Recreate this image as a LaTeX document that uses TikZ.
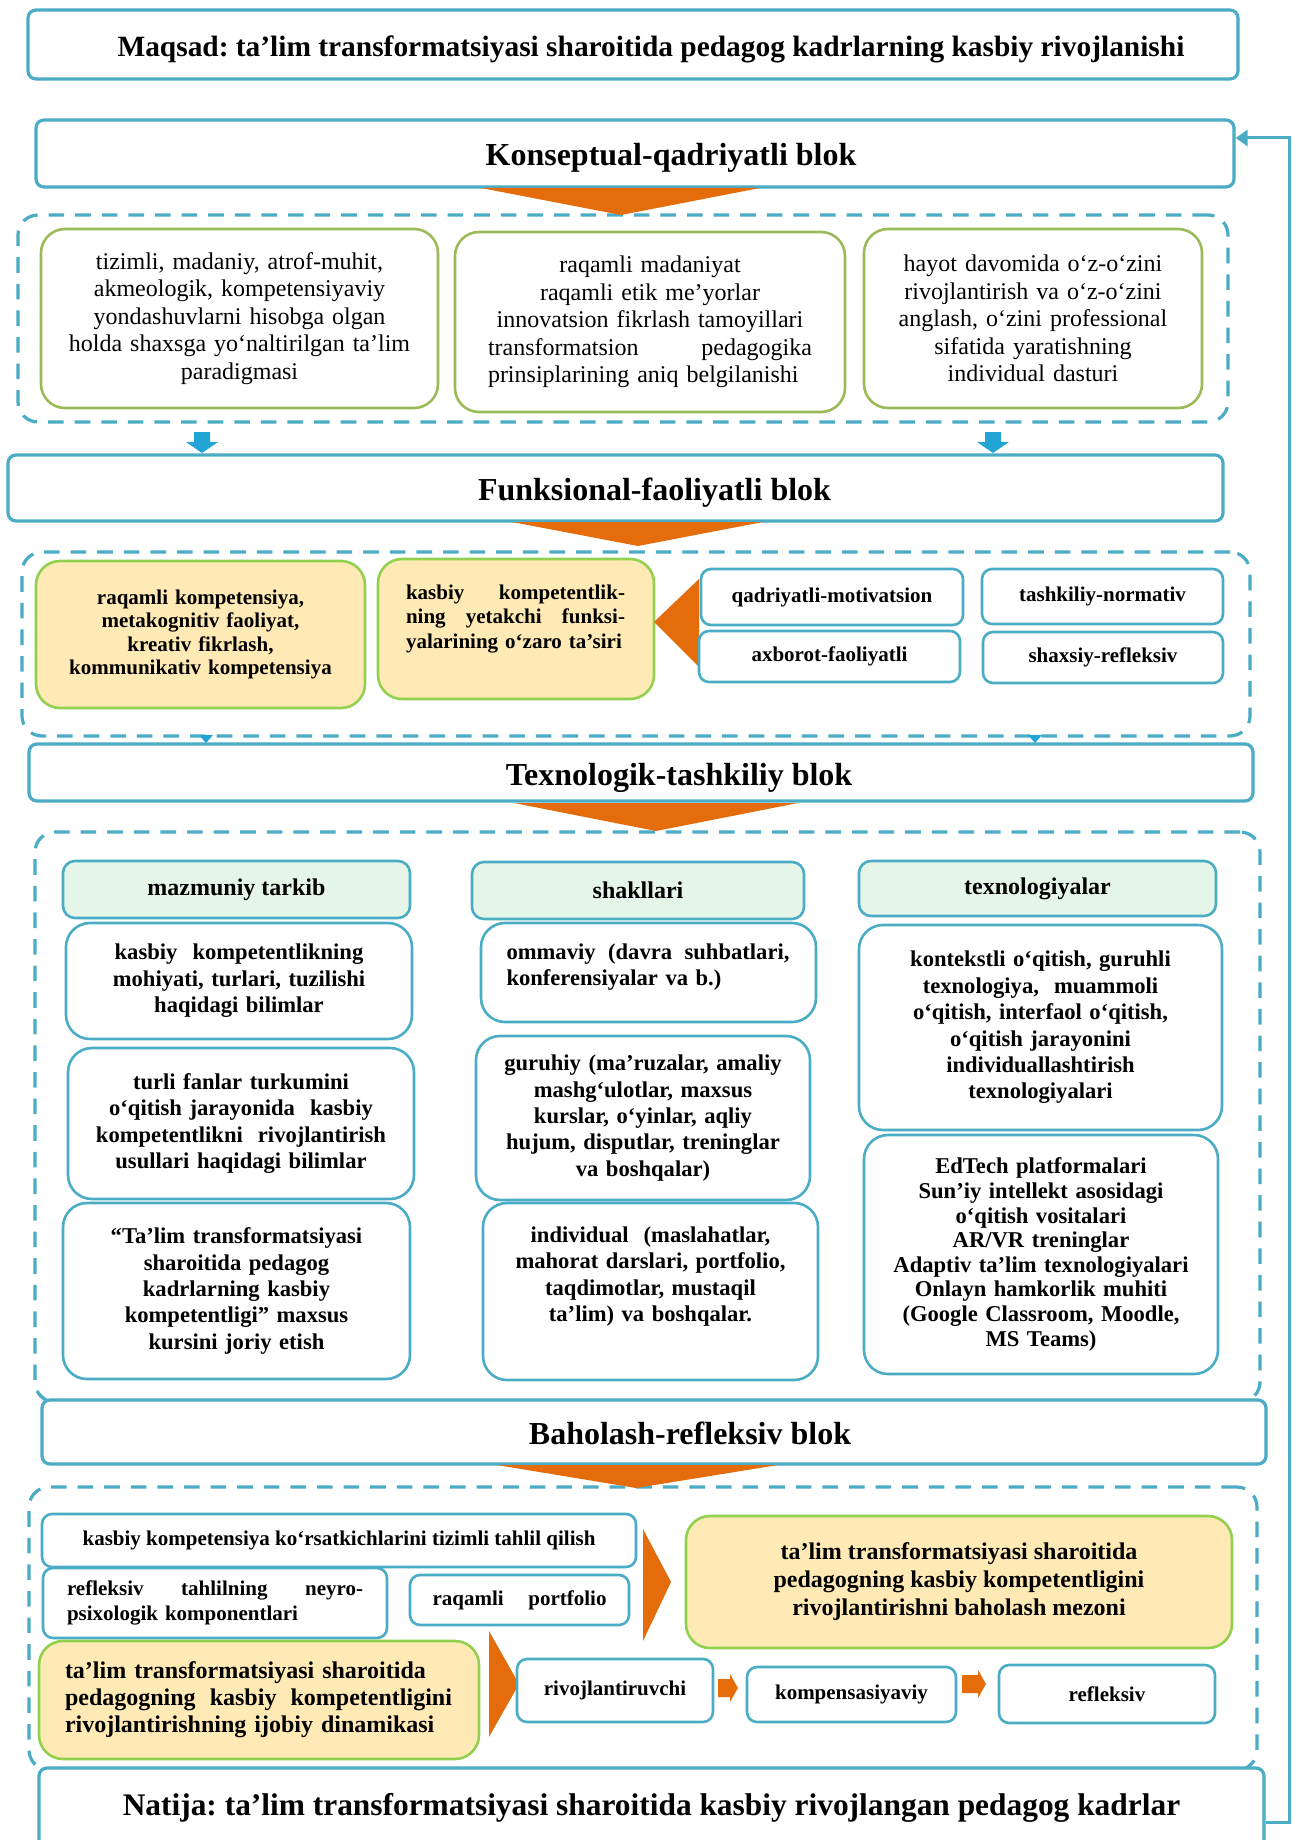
\documentclass[tikz,border=0pt]{standalone}
\usepackage{fontspec}
\setmainfont{Liberation Serif}
\frenchspacing
\usetikzlibrary{arrows.meta}
\definecolor{bl}{HTML}{4BACC6}
\definecolor{ab}{HTML}{22A5D5}
\definecolor{orng}{HTML}{E46C0A}
\definecolor{yl}{HTML}{FFE9B5}
\definecolor{olive}{HTML}{9BBB59}
\definecolor{lgreen}{HTML}{92D050}
\definecolor{hdfill}{HTML}{E5F5E7}
\tikzset{
  hdg/.style={draw=bl, line width=1.6pt, rounded corners=4pt, fill=white, inner sep=0pt,
    font=\fontsize{16}{19}\selectfont\bfseries, text height=14pt, text depth=1.5pt},
  ttl0/.style={draw=bl, line width=1.6pt, rounded corners=4pt, fill=white, inner sep=0pt,
    font=\fontsize{15.7}{18}\selectfont\bfseries},
  ttl/.style={ttl0, font=\fontsize{14.7}{17}\selectfont\bfseries, text height=13pt, text depth=1pt},
  dframe/.style={draw=bl, line width=1.6pt, dash pattern=on 7.8pt off 5.5pt, rounded corners=10pt, inner sep=0pt},
  gbox/.style={draw=olive, line width=1.3pt, rounded corners=12pt, fill=white, inner sep=0pt,
    align=center, font=\fontsize{12}{13.8}\selectfont},
  ybox/.style={draw=lgreen, line width=1.3pt, rounded corners=12pt, fill=yl, inner sep=0pt, align=center},
  cbox/.style={draw=bl, line width=1.3pt, rounded corners=12pt, fill=white, inner sep=0pt,
    align=center, font=\fontsize{11.3}{13.2}\selectfont\bfseries},
  sbox/.style={draw=bl, line width=1.3pt, rounded corners=5pt, fill=white, inner sep=0pt,
    align=center, font=\fontsize{10.5}{12.3}\selectfont\bfseries},
  hbox/.style={draw=bl, line width=1.3pt, rounded corners=6pt, fill=hdfill, inner sep=0pt,
    font=\fontsize{12}{14}\selectfont\bfseries},
  otri/.style={fill=orng},
  fbline/.style={draw=bl, line width=1.5pt, -{Triangle[length=6pt,width=8pt]}},
}
% \bx{name}{style}{x1}{y1}{x2}{y2}{text}
\newcommand\bx[7]{\node[#2, minimum width={(#5-#3)*0.5pt}, minimum height={(#6-#4)*0.5pt}] (#1) at ({(#3+#5)/2},{(#4+#6)/2}) {#7};}
\newcommand\bluedown[1]{\fill[ab] (#1-8,432) -- (#1+8,432) -- (#1+8,442) -- (#1+16,442) -- (#1,453) -- (#1-16,442) -- (#1-8,442) -- cycle;}
\newcommand\bluetip[1]{\fill[ab] (#1-7,735) -- (#1+7,735) -- (#1,743) -- cycle;}
\newcommand\orarrow[3]{\fill[orng] (#1,#3-9) -- (#2-8,#3-9) -- (#2-8,#3-14) -- (#2,#3) -- (#2-8,#3+14) -- (#2-8,#3+9) -- (#1,#3+9) -- cycle;}
\begin{document}
\begin{tikzpicture}[x=0.5pt,y=-0.5pt]
\useasboundingbox[fill=white] (0,0) rectangle (1292,1840);

% dashed frames
\bx{f1}{dframe}{18}{215}{1228}{422}{}
\bx{f2}{dframe}{22}{552}{1250}{736}{}
\bx{f3}{dframe}{35}{832}{1260}{1402}{}
\bx{f4}{dframe}{29}{1487}{1257}{1770}{}

% title
\bx{maqsad}{ttl}{28}{10}{1238}{79}{\hspace*{18pt}Maqsad: ta’lim transformatsiyasi sharoitida pedagog kadrlarning kasbiy rivojlanishi}

% block 1
\bx{kons}{hdg}{36}{120}{1234}{187}{\hspace*{36pt}Konseptual-qadriyatli blok}
\fill[otri] (481,188) -- (760,188) -- (621,215) -- cycle;

\bx{a1}{gbox,text width=185pt}{41}{229}{438}{408}{tizimli, madaniy, atrof-muhit,\\ akmeologik, kompetensiyaviy\\ yondashuvlarni hisobga olgan\\ holda shaxsga yo‘naltirilgan ta’lim\\ paradigmasi}
\bx{a2}{gbox,text width=180pt}{455}{232}{845}{412}{raqamli madaniyat\\ raqamli etik me’yorlar\\ innovatsion fikrlash tamoyillari\\ \makebox[162pt]{transformatsion\hfill pedagogika}\\ \makebox[162pt][l]{prinsiplarining aniq belgilanishi}}
\bx{a3}{gbox,text width=160pt}{864}{229}{1202}{408}{hayot davomida o‘z-o‘zini\\ rivojlantirish va o‘z-o‘zini\\ anglash, o‘zini professional\\ sifatida yaratishning\\ individual dasturi}

\bluedown{202}
\bluedown{993}

% block 2
\bx{funk}{hdg}{8}{455}{1223}{521}{\hspace*{39pt}Funksional-faoliyatli blok}
\fill[otri] (512,522) -- (763,522) -- (638,546) -- cycle;

\bx{y1}{ybox,text width=155pt,font=\fontsize{10.5}{11.8}\selectfont\bfseries}{36}{561}{365}{708}{raqamli kompetensiya,\\ metakognitiv faoliyat,\\ kreativ fikrlash,\\ kommunikativ kompetensiya}
\bx{y2}{ybox,text width=110pt,align=left,font=\fontsize{10.5}{12.3}\selectfont\bfseries}{378}{559}{654}{699}{\makebox[109.5pt]{kasbiy\hfill kompetentlik-}\\ \makebox[109.5pt]{ning\hfill yetakchi\hfill funksi-}\\ \mbox{yalarining o‘zaro ta’siri}\\ \mbox{}}
\fill[otri] (654,622) -- (699,579) -- (699,667) -- cycle;

\bx{qm}{sbox}{701}{569}{963}{625}{qadriyatli-motivatsion}
\bx{tn}{sbox}{982}{569}{1223}{624}{tashkiliy-normativ}
\bx{af}{sbox}{699}{631}{960}{682}{axborot-faoliyatli}
\bx{sr}{sbox}{983}{632}{1223}{683}{shaxsiy-refleksiv}

\bluetip{206}
\bluetip{1035}

% block 3
\bx{texn}{hdg}{29}{744}{1253}{801}{\hspace*{38pt}Texnologik-tashkiliy blok}
\fill[otri] (514,803) -- (798,803) -- (656,831) -- cycle;

\bx{h1}{hbox}{63}{861}{410}{918}{mazmuniy tarkib}
\bx{h2}{hbox}{472}{862}{804}{919}{shakllari}
\bx{h3}{hbox}{859}{861}{1216}{916}{texnologiyalar}

\bx{k1}{cbox,text width=165pt}{66}{923}{412}{1039}{kasbiy\ \ kompetentlikning\\ mohiyati, turlari, tuzilishi\\ haqidagi bilimlar}
\bx{k2}{cbox,text width=165pt}{68}{1048}{414}{1199}{turli fanlar turkumini\\ o‘qitish jarayonida\ \ kasbiy\\ kompetentlikni\ \ rivojlantirish\\ usullari haqidagi bilimlar}
\bx{k3}{cbox,text width=165pt}{63}{1203}{410}{1379}{“Ta’lim transformatsiyasi\\ sharoitida pedagog\\ kadrlarning kasbiy\\ kompetentligi” maxsus\\ kursini joriy etish}

\bx{s1}{cbox,text width=142pt,align=left}{481}{923}{816}{1022}{\makebox[141.5pt]{ommaviy\hfill (davra\hfill suhbatlari,}\\ konferensiyalar va b.)\\[-5.2pt]\mbox{}}
\bx{s2}{cbox,text width=160pt}{476}{1036}{810}{1200}{guruhiy (ma’ruzalar, amaliy\\ mashg‘ulotlar, maxsus\\ kurslar, o‘yinlar, aqliy\\ hujum, disputlar, treninglar\\ va boshqalar)}
\bx{s3}{cbox,text width=160pt}{483}{1203}{818}{1380}{individual\ \ (maslahatlar,\\ mahorat darslari, portfolio,\\ taqdimotlar, mustaqil\\ ta’lim) va boshqalar.\\[4pt]\mbox{}}

\bx{t1}{cbox,text width=172pt}{859}{925}{1222}{1130}{kontekstli o‘qitish, guruhli\\ texnologiya,\ \ muammoli\\ o‘qitish, interfaol o‘qitish,\\ o‘qitish jarayonini\\ individuallashtirish\\ texnologiyalari}
\bx{t2}{cbox,text width=170pt,font=\fontsize{11.3}{12.3}\selectfont\bfseries}{864}{1135}{1218}{1374}{EdTech platformalari\\ Sun’iy intellekt asosidagi\\ o‘qitish vositalari\\ AR/VR treninglar\\ Adaptiv ta’lim texnologiyalari\\ Onlayn hamkorlik muhiti\\ (Google Classroom, Moodle,\\ MS Teams)}

% block 4
\bx{bah}{hdg}{42}{1400}{1266}{1464}{\hspace*{36pt}Baholash-refleksiv blok}
\fill[otri] (497,1465) -- (778,1465) -- (636,1488) -- cycle;

\bx{b1}{sbox}{42}{1514}{636}{1567}{kasbiy kompetensiya ko‘rsatkichlarini tizimli tahlil qilish}
\bx{b2}{sbox,text width=148pt,align=left}{43}{1568}{387}{1638}{\makebox[148pt]{refleksiv\hfill tahlilning\hfill neyro-}\\ psixologik komponentlari}
\bx{b3}{sbox}{410}{1575}{629}{1625}{\makebox[87pt]{raqamli\hfill portfolio}}
\fill[otri] (643,1529) -- (671,1582) -- (643,1641) -- cycle;

\bx{mezon}{ybox,font=\fontsize{12}{14}\selectfont\bfseries}{686}{1516}{1232}{1648}{ta’lim transformatsiyasi sharoitida\\ pedagogning kasbiy kompetentligini\\ rivojlantirishni baholash mezoni}
\bx{dinam}{ybox,text width=194pt,align=left,font=\fontsize{12}{13.5}\selectfont\bfseries}{39}{1641}{479}{1759}{ta’lim transformatsiyasi sharoitida\\ \makebox[193.5pt]{pedagogning\hfill kasbiy\hfill kompetentligini}\\ rivojlantirishning ijobiy dinamikasi}
\fill[otri] (489,1631) -- (519,1684) -- (489,1737) -- cycle;

\bx{rv}{sbox}{517}{1659}{713}{1722}{rivojlantiruvchi}
\bx{kp}{sbox}{747}{1667}{956}{1722}{kompensasiyaviy}
\bx{rf}{sbox}{999}{1665}{1215}{1723}{refleksiv}
\orarrow{718}{738}{1688}
\orarrow{962}{986}{1684}

% result
\bx{natija}{ttl0}{39}{1768}{1264}{1848}{Natija: ta’lim transformatsiyasi sharoitida kasbiy rivojlangan pedagog kadrlar}

% feedback
\coordinate (fbbot) at (1289,1822);
\coordinate (fbtop) at (1289,138);
\draw[fbline] (natija.east |- fbbot) -- (fbbot) -- (fbtop) -- (kons.east |- fbtop);
\end{tikzpicture}
\end{document}
